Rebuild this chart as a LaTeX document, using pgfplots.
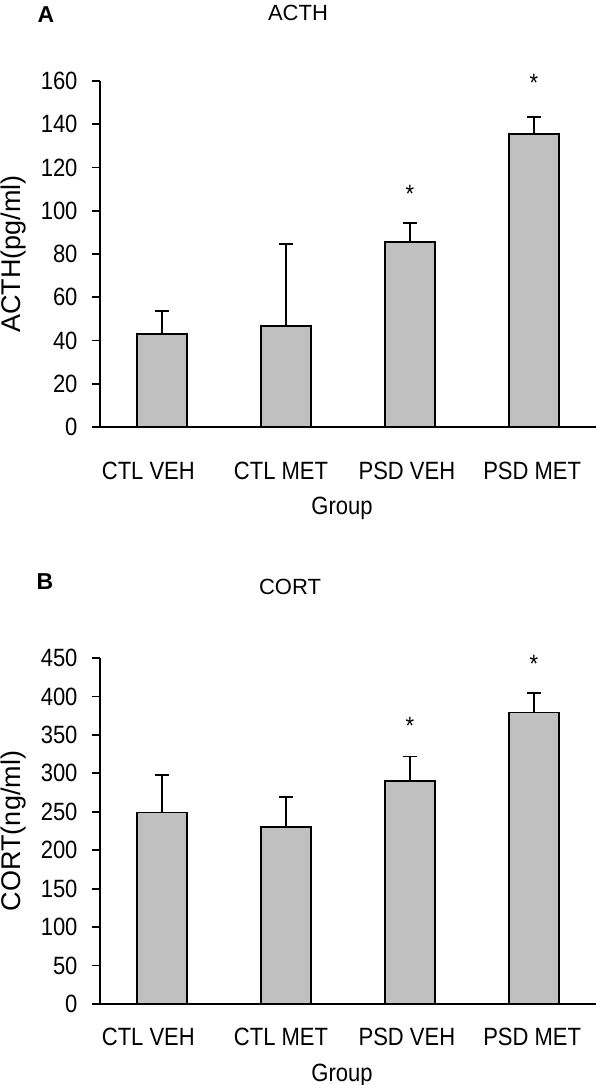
\documentclass[border=0pt]{standalone}
\usepackage{fontspec}
\setmainfont{Liberation Sans}[FakeStretch=0.88]
\newfontfamily\plainfont{Liberation Sans}
\usepackage{pgfplots}
\pgfplotsset{compat=1.18}
\definecolor{barfill}{RGB}{192,192,192}
\newcommand{\tickfont}{\fontsize{25bp}{30bp}\selectfont}
\pgfplotsset{panel/.style={
  scale only axis, width=496bp, height=346bp,
  anchor=south west, clip=false,
  xmin=-0.5, xmax=3.5, ymin=0,
  ybar, bar width=50bp,
  axis x line=bottom, axis y line=left,
  axis line style={line width=1.8bp, -},
  xtick={-0.11,0.96,1.975,2.985}, xticklabels={CTL VEH, CTL MET, PSD VEH, PSD MET},
  x tick style={draw=none},
  y tick style={line width=1.8bp, black},
  tick align=outside, major tick length=8bp,
  tick label style={font=\tickfont},
  /pgf/number format/assume math mode=true,
  yticklabel style={xshift=-11bp},
  xlabel={Group},
  ylabel style={at={(axis description cs:0,0.5)}, anchor=center, yshift=86bp, font=\plainfont\fontsize{27bp}{30bp}\selectfont},
}}
\begin{document}
\begin{tikzpicture}
\useasboundingbox (0,0) rectangle (596bp,1085bp);
\begin{axis}[panel, at={(100bp,658bp)}, ymax=160, ytick={0,20,...,160}, ylabel={ACTH(pg/ml)},
  xticklabel style={yshift=-24bp},
  xlabel style={at={(axis description cs:0.5,0)}, anchor=center, yshift=-81bp, xshift=-6bp, font=\tickfont}]
\addplot[fill=barfill, draw=black, line width=1.8bp,
  error bars/.cd, y dir=plus, y explicit,
  error bar style={line width=1.8bp, black},
  error mark options={rotate=90, mark size=7bp, line width=1.8bp, black}]
  coordinates {(0,43) +- (0,10.6) (1,46.8) +- (0,37.8) (2,85.5) +- (0,8.8) (3,135.5) +- (0,7.8)};
\node[font=\tickfont, anchor=base, yshift=-14bp, inner sep=0] at (axis cs:2,110.5) {*};
\node[font=\tickfont, anchor=base, yshift=-14bp, inner sep=0] at (axis cs:3,161.8) {*};
\end{axis}
\begin{axis}[panel, at={(100bp,81bp)}, ymax=450, ytick={0,50,...,450}, ylabel={CORT(ng/ml)},
  xticklabel style={yshift=-13bp},
  xlabel style={at={(axis description cs:0.5,0)}, anchor=center, yshift=-71bp, xshift=-6bp, font=\tickfont}]
\addplot[fill=barfill, draw=black, line width=1.8bp,
  error bars/.cd, y dir=plus, y explicit,
  error bar style={line width=1.8bp, black},
  error mark options={rotate=90, mark size=7bp, line width=1.8bp, black}]
  coordinates {(0,249) +- (0,49) (1,230) +- (0,39) (2,290) +- (0,32) (3,379) +- (0,26)};
\node[font=\tickfont, anchor=base, yshift=-14bp, inner sep=0] at (axis cs:2,369) {*};
\node[font=\tickfont, anchor=base, yshift=-14bp, inner sep=0] at (axis cs:3,449) {*};
\end{axis}
\node[font=\plainfont\bfseries\fontsize{23bp}{26bp}\selectfont] at (46bp,1070bp) {A};
\node[font=\plainfont\fontsize{22bp}{26bp}\selectfont] at (298bp,1072.5bp) {ACTH};
\node[font=\plainfont\bfseries\fontsize{23bp}{26bp}\selectfont] at (45bp,503bp) {B};
\node[font=\plainfont\fontsize{22bp}{26bp}\selectfont] at (290bp,498bp) {CORT};
\end{tikzpicture}
\end{document}
